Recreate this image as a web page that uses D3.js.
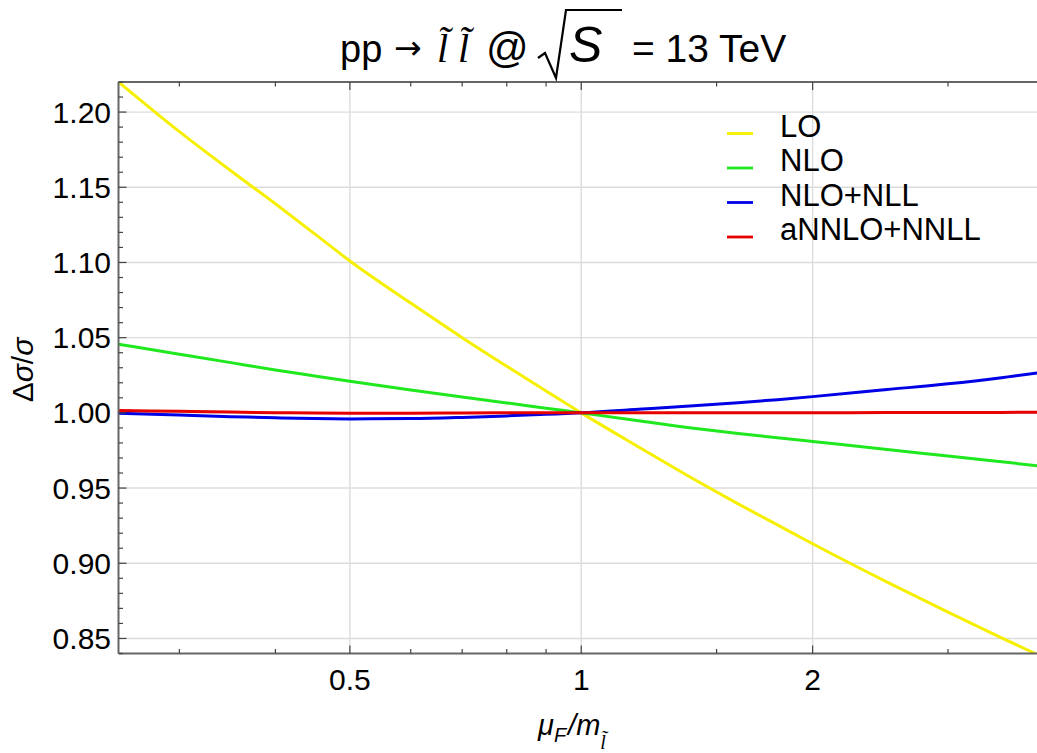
<!DOCTYPE html>
<html>
<head>
<meta charset="utf-8">
<script src="https://cdn.jsdelivr.net/npm/d3@7"></script>
<style>
  html, body { margin: 0; padding: 0; background: #fff; }
  svg { display: block; }
  text { font-family: "Liberation Sans", Arial, Helvetica, sans-serif; fill: #000; }
</style>
</head>
<body>
<svg id="chart" width="1037" height="753"></svg>
<script>
// Factorisation-scale ratio mu_F / m (log axis)
const muF = [0.25, 0.3, 0.35, 0.4, 0.45, 0.5, 0.6, 0.7, 0.8, 0.9, 1.0,
             1.2, 1.4, 1.6, 1.8, 2.0, 2.5, 3.0, 3.5, 4.0];

// Relative cross-section variation for each perturbative order
const seriesLO    = [1.220, 1.187, 1.161, 1.139, 1.119, 1.101, 1.073, 1.050, 1.031, 1.0146, 1.000,
                     0.976, 0.956, 0.9395, 0.9255, 0.913, 0.8875, 0.8675, 0.8511, 0.8372];
const seriesNLO   = [1.0456, 1.039, 1.0334, 1.0285, 1.0245, 1.021, 1.0152, 1.0105, 1.0066, 1.0031, 1.000,
                     0.9945, 0.9898, 0.9863, 0.9835, 0.981, 0.9757, 0.9713, 0.9676, 0.9644];
const seriesNLL   = [0.9997, 0.9985, 0.9975, 0.9967, 0.9962, 0.9960, 0.9962, 0.9970, 0.9980, 0.9990, 1.000,
                     1.0025, 1.0047, 1.0068, 1.0088, 1.0108, 1.0155, 1.0193, 1.0232, 1.0272];
const seriesNNLL  = [1.0016, 1.0010, 1.0005, 1.0001, 0.9999, 0.9998, 0.9998, 0.9999, 1.0000, 1.0000, 1.000,
                     1.0000, 1.0000, 1.0001, 1.0001, 1.0001, 1.0002, 1.0002, 1.0003, 1.0004];

const seriesNames  = ["LO", "NLO", "NLO+NLL", "aNNLO+NNLL"];
const seriesColors = ["#f6f000", "#1fe81f", "#0000e6", "#e60000"];
const seriesValues = [seriesLO, seriesNLO, seriesNLL, seriesNNLL];

// Axis ticks
const xMajorTicks = [0.5, 1, 2];
const xMajorLabels = ["0.5", "1", "2"];
const xMinorTicks = [0.3, 0.4, 0.6, 0.7, 0.8, 0.9, 1.5, 3];
const yMajorTicks = [0.85, 0.90, 0.95, 1.00, 1.05, 1.10, 1.15, 1.20];
const yMinorTicks = d3.range(84, 123).map(v => v / 100).filter(v => Math.round(v * 100) % 5 !== 0);

const svg = d3.select("#chart");

const x = d3.scaleLog().domain([0.25, 4]).range([118.5, 1044]);
const y = d3.scaleLinear().domain([0.84, 1.22]).range([653.5, 82]);

const [x0, x1] = x.range();
const [yb, yt] = y.range();

// clip for the curves
svg.append("defs").append("clipPath").attr("id", "plotClip")
  .append("rect").attr("x", x0).attr("y", yt).attr("width", x1 - x0).attr("height", yb - yt);

// grid
const grid = svg.append("g").attr("stroke", "#dcdcdc").attr("stroke-width", 1.4);
grid.selectAll("line.gx").data(xMajorTicks).join("line")
  .attr("x1", d => x(d)).attr("x2", d => x(d)).attr("y1", yt).attr("y2", yb);
grid.selectAll("line.gy").data(yMajorTicks).join("line")
  .attr("x1", x0).attr("x2", x1).attr("y1", d => y(d)).attr("y2", d => y(d));

// curves
const line = d3.line().x(d => x(d[0])).y(d => y(d[1])).curve(d3.curveMonotoneX);
const curves = svg.append("g").attr("clip-path", "url(#plotClip)");
seriesValues.forEach((vals, i) => {
  curves.append("path")
    .datum(muF.map((m, k) => [m, vals[k]]))
    .attr("fill", "none")
    .attr("stroke", seriesColors[i])
    .attr("stroke-width", 3)
    .attr("stroke-linejoin", "round")
    .attr("d", line);
});

// frame
const frame = svg.append("g").attr("stroke", "#666").attr("stroke-width", 2).attr("fill", "none");
frame.append("line").attr("x1", x0).attr("x2", x1).attr("y1", yb).attr("y2", yb);
frame.append("line").attr("x1", x0).attr("x2", x1).attr("y1", yt).attr("y2", yt);
frame.append("line").attr("x1", x0).attr("x2", x0).attr("y1", yt).attr("y2", yb);

// ticks (pointing inward)
const tickG = svg.append("g").attr("stroke", "#444").attr("stroke-width", 1.2);
const addXTicks = (vals, len) => {
  tickG.selectAll(null).data(vals).join("line")
    .attr("x1", d => x(d)).attr("x2", d => x(d)).attr("y1", yb).attr("y2", yb - len);
  tickG.selectAll(null).data(vals).join("line")
    .attr("x1", d => x(d)).attr("x2", d => x(d)).attr("y1", yt).attr("y2", yt + len);
};
addXTicks(xMajorTicks, 8);
addXTicks(xMinorTicks, 4.5);
tickG.selectAll(null).data(yMajorTicks).join("line")
  .attr("x1", x0).attr("x2", x0 + 8).attr("y1", d => y(d)).attr("y2", d => y(d));
tickG.selectAll(null).data(yMinorTicks).join("line")
  .attr("x1", x0).attr("x2", x0 + 4.5).attr("y1", d => y(d)).attr("y2", d => y(d));

// tick labels
svg.append("g").selectAll("text").data(yMajorTicks).join("text")
  .attr("x", 111).attr("y", d => y(d) + 10.5)
  .attr("text-anchor", "end").attr("font-size", 30)
  .text(d => d.toFixed(2));
svg.append("g").selectAll("text").data(xMajorTicks).join("text")
  .attr("x", d => x(d)).attr("y", 690)
  .attr("text-anchor", "middle").attr("font-size", 30)
  .text((d, i) => xMajorLabels[i]);

// legend
const legend = svg.append("g");
seriesNames.forEach((name, i) => {
  const by = 136.5 + i * 34.5;
  legend.append("line").attr("x1", 727).attr("x2", 753)
    .attr("y1", by - 3).attr("y2", by - 3)
    .attr("stroke", seriesColors[i]).attr("stroke-width", 2.8);
  legend.append("text").attr("x", 780).attr("y", by).attr("font-size", 31).text(name);
});

// title: pp → l̃ l̃ @ √S = 13 TeV
const title = svg.append("g");
title.append("text").attr("x", 340).attr("y", 62).attr("font-size", 38).text("pp");
title.append("text").attr("x", 394).attr("y", 59).attr("font-size", 33)
  .style("font-family", "'DejaVu Sans'").text("→");
title.append("text").attr("x", 437).attr("y", 62).attr("font-size", 40)
  .style("font-family", "'Liberation Serif', serif").style("font-style", "italic")
  .attr("letter-spacing", 10).text("l\u0303l\u0303");
title.append("text").attr("x", 486).attr("y", 62).attr("font-size", 42).text("@");
title.append("path")
  .attr("d", "M538,58 L545,53 L556,78 L566,10 L622,10")
  .attr("fill", "none").attr("stroke", "#000").attr("stroke-width", 2.2).attr("stroke-linejoin", "miter");
title.append("text").attr("x", 569).attr("y", 62).attr("font-size", 50)
  .style("font-style", "italic").text("S");
title.append("text").attr("x", 632).attr("y", 62).attr("font-size", 39).text("= 13 TeV");

// y-axis label: Δσ/σ
const yl = svg.append("text").attr("transform", "translate(33,370) rotate(-90)")
  .attr("text-anchor", "middle").attr("font-size", 30);
yl.append("tspan").text("Δ");
yl.append("tspan").style("font-style", "italic").text("σ");
yl.append("tspan").text("/");
yl.append("tspan").style("font-style", "italic").text("σ");

// x-axis label: μF / m with slepton subscript
const xl = svg.append("text").attr("x", 538).attr("y", 735).attr("font-size", 29)
  .style("font-style", "italic");
xl.append("tspan").text("μ");
xl.append("tspan").attr("font-size", 20).attr("dy", 7).text("F");
xl.append("tspan").attr("dy", -7).attr("dx", 2).text("/m");
xl.append("tspan").attr("font-size", 20).attr("dy", 14)
  .style("font-family", "'Liberation Serif', serif").text("l\u0303");
</script>
</body>
</html>
